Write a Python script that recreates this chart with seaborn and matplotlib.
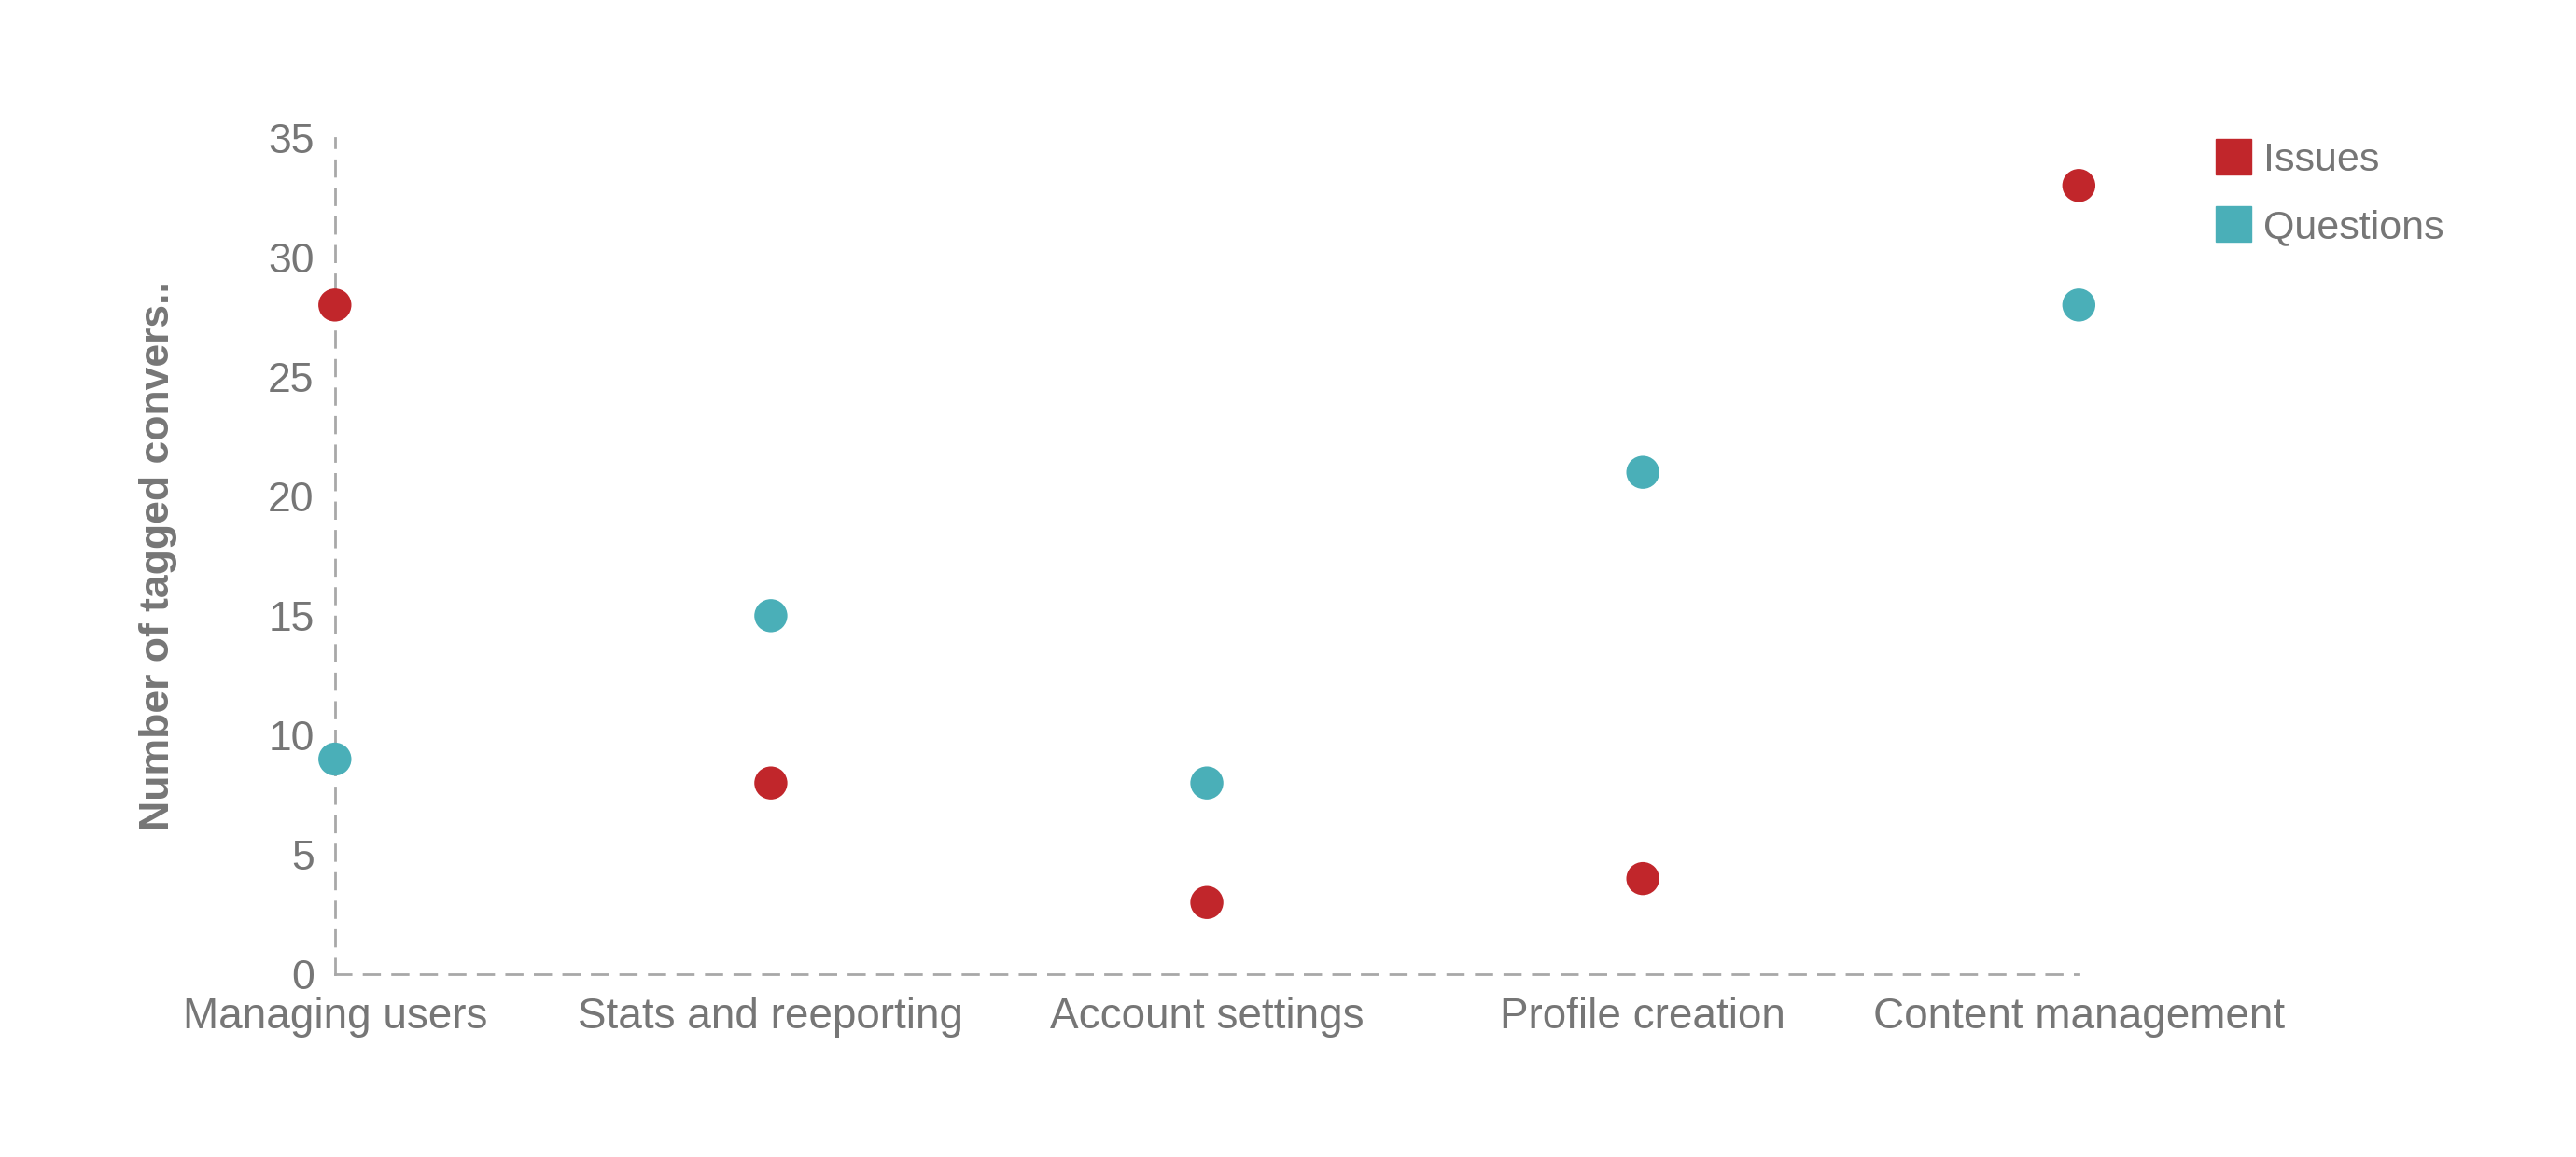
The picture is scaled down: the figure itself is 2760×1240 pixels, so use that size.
import pandas as pd
import matplotlib
matplotlib.use("Agg")
import matplotlib.pyplot as plt
from matplotlib.lines import Line2D
import seaborn as sns

# chart data
categories = ["Managing users", "Stats and reeporting", "Account settings",
              "Profile creation", "Content management"]
issues = [28, 8, 3, 4, 33]
questions = [9, 15, 8, 21, 28]
series_names = ["Issues", "Questions"]
y_ticks = [0, 5, 10, 15, 20, 25, 30, 35]

colors = {"Issues": "#C1262B", "Questions": "#4AAFB8"}
text_gray = "#767676"

# long form table for seaborn
df = pd.DataFrame({
    "category": categories * 2,
    "count": issues + questions,
    "type": ["Issues"] * len(categories) + ["Questions"] * len(categories),
})

sns.set_style("white")
plt.rcParams["font.family"] = ["Liberation Sans", "DejaVu Sans"]

fig = plt.figure(figsize=(27.6, 12.4), dpi=100)
ax = fig.add_axes([0.130, 0.158, 0.677, 0.723])

sns.scatterplot(data=df, x="category", y="count", hue="type", palette=colors,
                s=650, linewidth=0, legend=False, ax=ax, clip_on=False, zorder=3)

ax.set_xlim(0, len(categories) - 1)
ax.set_ylim(0, 35)
ax.set_yticks(y_ticks)
ax.set_xticks(range(len(categories)))
ax.set_xticklabels(categories)

# dashed axis lines
for side in ["top", "right"]:
    ax.spines[side].set_visible(False)
for side in ["left", "bottom"]:
    ax.spines[side].set_linestyle((0, (6, 5)))
    ax.spines[side].set_color("#a8a8a8")
    ax.spines[side].set_linewidth(2)

ax.tick_params(axis="y", length=0, pad=16, labelsize=32, labelcolor=text_gray)
ax.tick_params(axis="x", length=0, pad=17, labelsize=33, labelcolor=text_gray)

ax.set_xlabel("")
ax.set_ylabel("Number of tagged convers..", fontsize=32, fontweight="bold",
              color=text_gray, labelpad=70)

# legend with square markers
handles = [Line2D([], [], marker="s", linestyle="", markersize=28,
                  markerfacecolor=colors[n], markeredgecolor=colors[n])
           for n in series_names]
ax.legend(handles, series_names, loc="upper left", bbox_to_anchor=(1.069, 1.014),
          frameon=False, fontsize=31, labelcolor=text_gray, handlelength=0.9,
          handletextpad=0.3, labelspacing=0.75, borderaxespad=0)

fig.savefig("out.png", dpi=100, facecolor="white")
